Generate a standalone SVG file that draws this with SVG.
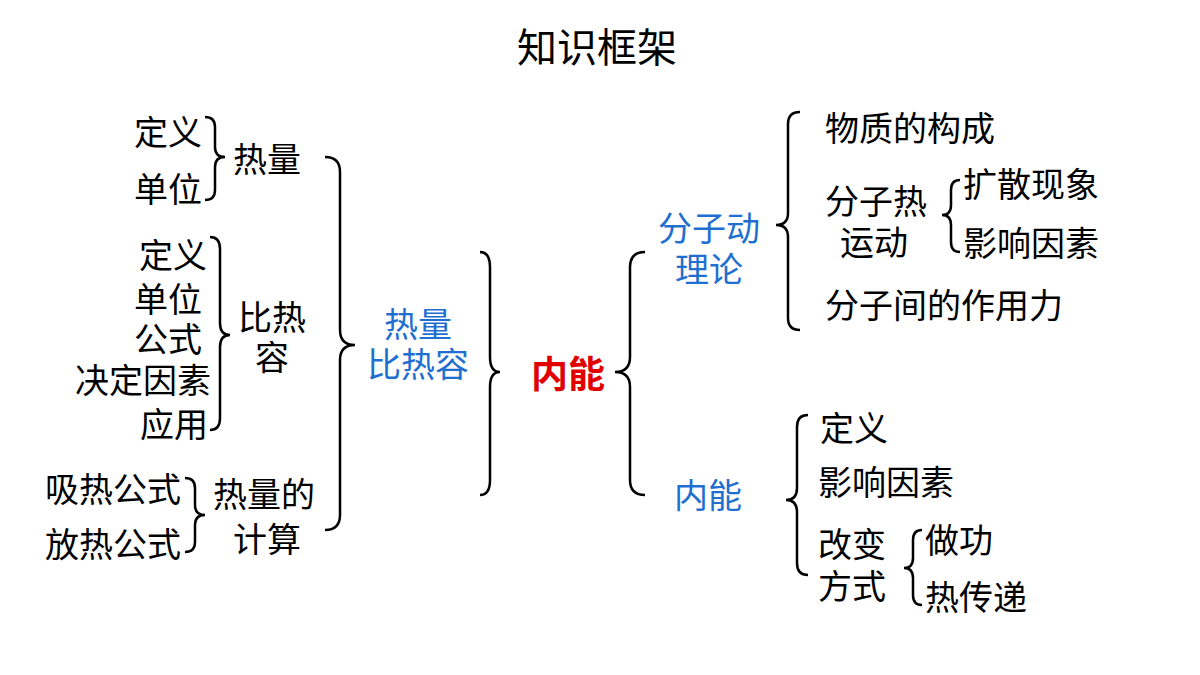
<svg xmlns="http://www.w3.org/2000/svg" width="1200" height="675" viewBox="0 0 1200 675">
<style>
text{font-family:"Noto Sans CJK SC","Liberation Sans",sans-serif;font-size:34px;fill:#000;dominant-baseline:central}
.b{fill:#1F6FD0}
.r{fill:#E00000;font-weight:bold;font-size:37px}
.c{text-anchor:middle}
.e{text-anchor:end}
path{fill:none;stroke:#000;stroke-width:2.5}
</style>
<rect width="1200" height="675" fill="#fff"/>
<text x="597" y="45" class="c" style="font-size:40px">知识框架</text>
<g id="connectors">
<path d="M205 117 Q215 117 215 127 L215 147 Q215 157 225 157 Q215 157 215 167 L215 190 Q215 200 205 200"/>
<path d="M210 237 Q220 237 220 249 L220 323 Q220 335 230 335 Q220 335 220 347 L220 418 Q220 430 210 430"/>
<path d="M185 478 Q195 478 195 488 L195 505 Q195 515 205 515 Q195 515 195 525 L195 542 Q195 552 185 552"/>
<path d="M325 157 Q340 157 340 172 L340 330 Q340 345 355 345 Q340 345 340 360 L340 515 Q340 530 325 530"/>
<path d="M480 252 Q490 252 490 267 L490 357 Q490 372 500 372 Q490 372 490 387 L490 480 Q490 495 480 495"/>
<path d="M645 252 Q630 252 630 267 L630 357 Q630 372 615 372 Q630 372 630 387 L630 480 Q630 495 645 495"/>
<path d="M800 112 Q788 112 788 124 L788 213 Q788 225 776 225 Q788 225 788 237 L788 318 Q788 330 800 330"/>
<path d="M960 180 Q951 180 951 190 L951 205 Q951 215 942 215 Q951 215 951 225 L951 242 Q951 252 960 252"/>
<path d="M808 415 Q797 415 797 427 L797 488 Q797 500 786 500 Q797 500 797 512 L797 563 Q797 575 808 575"/>
<path d="M922 530 Q913 530 913 540 L913 558 Q913 568 904 568 Q913 568 913 578 L913 595 Q913 605 922 605"/>
</g>
<g id="n-rl"><text x="202" y="130" class="e">定义</text><text x="202" y="187" class="e">单位</text></g>
<g id="n-rl2"><text x="267" y="157" class="c">热量</text></g>
<g id="n-brl"><text x="207" y="253" class="e">定义</text><text x="202" y="297" class="e">单位</text><text x="202" y="337" class="e">公式</text><text x="211" y="378" class="e">决定因素</text><text x="208" y="422" class="e">应用</text></g>
<g id="n-brr"><text x="272" y="315" class="c">比热</text><text x="272" y="355" class="c">容</text></g>
<g id="n-js"><text x="181" y="487" class="e">吸热公式</text><text x="181" y="542" class="e">放热公式</text></g>
<g id="n-jsr"><text x="264" y="492" class="c">热量的</text><text x="267" y="537" class="c">计算</text></g>
<g id="n-rlb"><text x="418" y="322" class="c b">热量</text><text x="418" y="362" class="c b">比热容</text></g>
<g id="n-nn"><text x="568" y="372" class="c r">内能</text></g>
<g id="n-fz"><text x="709" y="226" class="c b">分子动</text><text x="709" y="267" class="c b">理论</text></g>
<g id="n-nn2"><text x="708" y="493" class="c b">内能</text></g>
<g id="n-wz"><text x="825" y="126">物质的构成</text></g>
<g id="n-fzr"><text x="876" y="199" class="c">分子热</text><text x="874" y="240" class="c">运动</text></g>
<g id="n-ks"><text x="963" y="182">扩散现象</text><text x="963" y="241">影响因素</text></g>
<g id="n-zy"><text x="825" y="303">分子间的作用力</text></g>
<g id="n-nd"><text x="820" y="426">定义</text><text x="818" y="480">影响因素</text><text x="818" y="542">改变</text><text x="818" y="584">方式</text></g>
<g id="n-zg"><text x="925" y="538">做功</text><text x="925" y="595">热传递</text></g>
</svg>
